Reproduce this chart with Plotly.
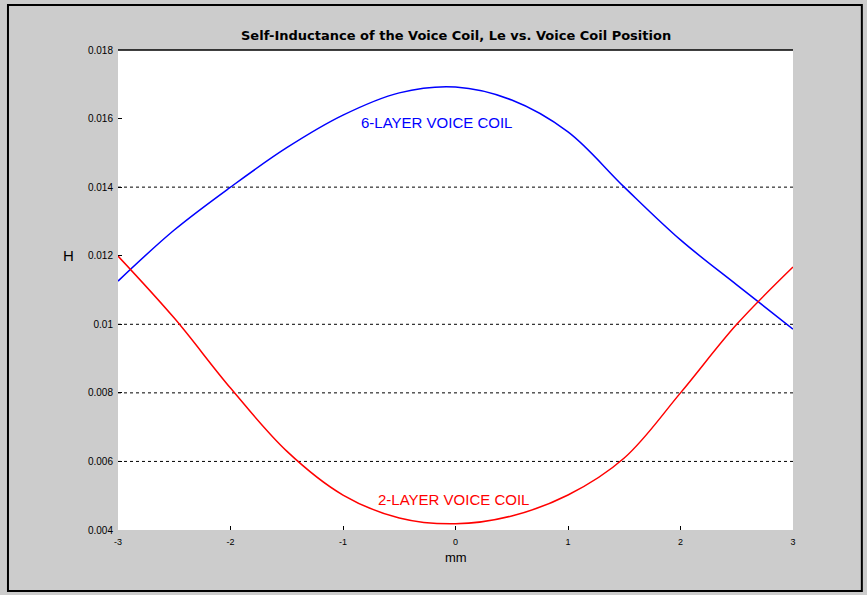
import plotly.graph_objects as go

# Voice coil position (mm)
position_mm = [-3.0, -2.5, -2.0, -1.5, -1.0, -0.5, 0.0, 0.5, 1.0, 1.5, 2.0, 2.5, 3.0]

# Self-inductance Le (H) for each winding
le_6_layer = [0.01126, 0.01275, 0.01400, 0.01515, 0.01610, 0.01675, 0.01692,
              0.01654, 0.01561, 0.01400, 0.01246, 0.01115, 0.00986]
le_2_layer = [0.01199, 0.01018, 0.00814, 0.00630, 0.00502, 0.00435, 0.00418,
              0.00441, 0.00502, 0.00610, 0.00800, 0.01000, 0.01167]

x_ticks = [-3, -2, -1, 0, 1, 2, 3]
x_tick_text = ["-3", "-2", "-1", "0", "1", "2", "3"]
y_ticks = [0.004, 0.006, 0.008, 0.010, 0.012, 0.014, 0.016, 0.018]
y_tick_text = ["0.004", "0.006", "0.008", "0.01", "0.012", "0.014", "0.016", "0.018"]
grid_levels = [0.006, 0.008, 0.010, 0.014]

FONT = "Liberation Sans, Arial, sans-serif"
WIDE = "DejaVu Sans, Verdana, sans-serif"

fig = go.Figure()
fig.add_trace(go.Scatter(x=position_mm, y=le_6_layer, mode="lines",
                         line=dict(color="#0000ff", width=1.5, shape="spline", smoothing=1.0),
                         showlegend=False))
fig.add_trace(go.Scatter(x=position_mm, y=le_2_layer, mode="lines",
                         line=dict(color="#ff0000", width=1.5, shape="spline", smoothing=1.0),
                         showlegend=False))

shapes = []
for g in grid_levels:
    shapes.append(dict(type="line", xref="paper", yref="y", x0=0, x1=1, y0=g, y1=g,
                       line=dict(color="black", width=1, dash="dot"), layer="below"))
# top edge of the axes box
shapes.append(dict(type="line", xref="paper", yref="paper", x0=0, x1=1, y0=1, y1=1,
                   line=dict(color="black", width=1.5)))
# outer figure frame
shapes.append(dict(type="rect", xref="paper", yref="paper",
                   x0=-0.163, x1=1.102, y0=-0.127, y1=1.094,
                   line=dict(color="black", width=2), fillcolor="rgba(0,0,0,0)"))

annotations = [
    dict(text="<b>Self-Inductance of the Voice Coil, Le vs. Voice Coil Position</b>",
         xref="paper", yref="paper", x=0.5, y=1.03, xanchor="center", yanchor="middle",
         showarrow=False, font=dict(family=WIDE, size=13, color="black")),
    dict(text="6-LAYER VOICE COIL", x=-0.17, y=0.01590, xref="x", yref="y",
         showarrow=False, font=dict(family=FONT, size=15, color="#0000ff")),
    dict(text="2-LAYER VOICE COIL", x=-0.02, y=0.00488, xref="x", yref="y",
         showarrow=False, font=dict(family=FONT, size=15, color="#ff0000")),
    dict(text="H", xref="paper", yref="paper", x=-0.074, y=0.571,
         xanchor="center", yanchor="middle", showarrow=False,
         font=dict(family=FONT, size=15, color="black")),
    dict(text="mm", xref="paper", yref="paper", x=0.5, y=-0.058,
         xanchor="center", yanchor="middle", showarrow=False,
         font=dict(family=FONT, size=13, color="black")),
]

fig.update_layout(
    width=867, height=595,
    margin=dict(l=118, r=74, t=50, b=65),
    paper_bgcolor="#cccccc",
    plot_bgcolor="white",
    shapes=shapes,
    annotations=annotations,
    font=dict(family=FONT, size=9, color="black"),
    xaxis=dict(range=[-3, 3], tickvals=x_ticks, ticktext=x_tick_text,
               showgrid=False, zeroline=False, showline=False,
               ticks="inside", ticklen=4, tickcolor="black",
               ticklabelstandoff=5,
               tickfont=dict(size=9, color="black")),
    yaxis=dict(range=[0.004, 0.018], tickvals=y_ticks, ticktext=y_tick_text,
               showgrid=False, zeroline=False, showline=False,
               ticks="inside", ticklen=4, tickcolor="black",
               ticklabelstandoff=4,
               tickfont=dict(size=10, color="black")),
)

fig.write_html("out.html")
